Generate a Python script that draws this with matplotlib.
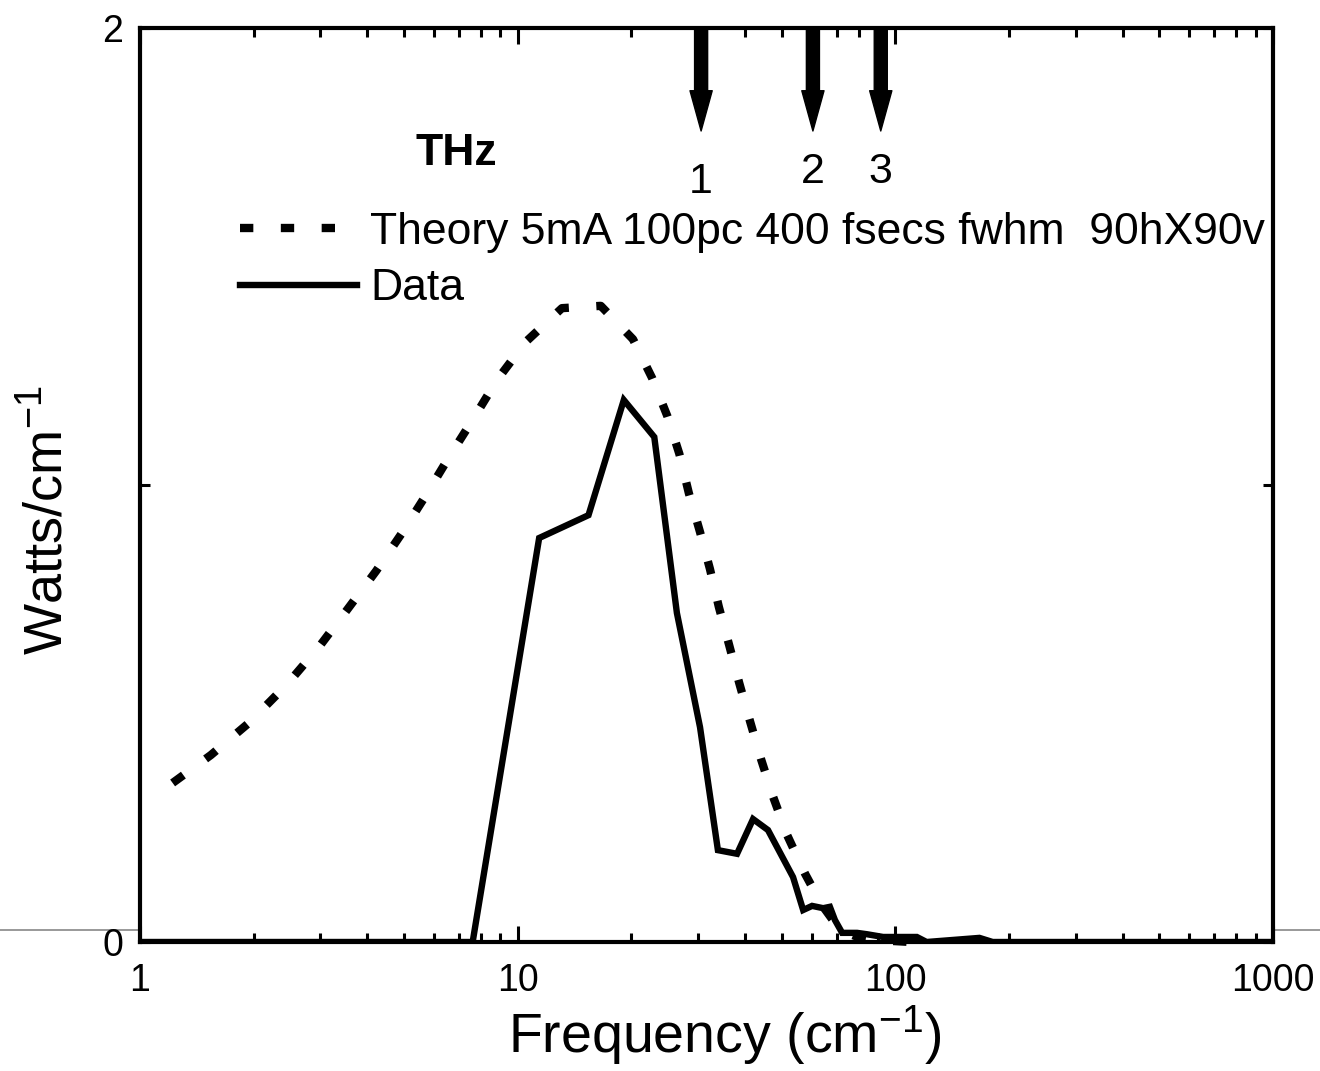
import matplotlib
matplotlib.use("Agg")
import matplotlib.pyplot as plt
from matplotlib.lines import Line2D
from matplotlib.ticker import LogLocator, FixedLocator, NullFormatter, FixedFormatter

plt.rcParams['font.family'] = ['Liberation Sans', 'DejaVu Sans']
plt.rcParams['mathtext.default'] = 'regular'

# ---- data ----
theory_freq = [1.22, 1.54, 1.94, 2.44, 2.98, 3.55, 4.22, 4.94, 5.72, 6.58, 7.62, 8.82,
               10.5, 13.1, 16.6, 20.2, 22.7, 24.9, 26.8, 28.4, 30.4, 32.3, 34.1, 36.3,
               38.6, 41.2, 44.1, 47.5, 51.7, 57.7, 63.9, 71.4, 80.0, 90.0, 110.0]
theory_power = [0.348, 0.409, 0.479, 0.562, 0.646, 0.729, 0.812, 0.895, 0.978, 1.061, 1.144, 1.230,
                1.313, 1.387, 1.392, 1.319, 1.234, 1.151, 1.068, 0.982, 0.897, 0.816, 0.733, 0.650,
                0.567, 0.484, 0.400, 0.317, 0.234, 0.149, 0.081, 0.026, 0.010, 0.004, 0.0]

data_freq = [1.0, 7.6, 11.4, 15.4, 19.1, 23.0, 26.4, 30.4, 33.9, 38.1, 42.0, 46.0, 53.6,
             57.0, 60.2, 64.4, 67.1, 69.2, 72.3, 79.2, 84.1, 92.8, 114.0, 121.0, 167.0,
             181.0, 1000.0]
data_power = [0.0, 0.0, 0.884, 0.934, 1.186, 1.105, 0.720, 0.470, 0.201, 0.193, 0.269, 0.245, 0.142,
              0.070, 0.079, 0.074, 0.077, 0.048, 0.020, 0.020, 0.017, 0.011, 0.011, 0.0, 0.009,
              0.0, 0.0]

arrow_freqs = [30.6, 60.5, 91.5]
arrow_labels = ['1', '2', '3']

x_ticks = [1, 10, 100, 1000]
x_ticklabels = ['1', '10', '100', '1000']
y_ticks = [0, 1, 2]
y_ticklabels = ['0', '', '2']

theory_label = 'Theory 5mA 100pc 400 fsecs fwhm  90hX90v'
data_label = 'Data'

# ---- figure ----
fig = plt.figure(figsize=(13.2, 10.71), dpi=100)
ax = fig.add_axes([140/1320, 1 - 942/1071, (1273 - 140)/1320, (942 - 28)/1071])

ax.plot(theory_freq, theory_power, color='black', linewidth=6.0,
        linestyle=(0, (1.6, 3.3)), dash_capstyle='butt', label=theory_label, clip_on=False)
ax.plot(data_freq, data_power, color='black', linewidth=4.6,
        solid_joinstyle='miter', label=data_label)

ax.set_xscale('log')
ax.set_xlim(1, 1000)
ax.set_ylim(0, 2)

ax.xaxis.set_major_locator(FixedLocator(x_ticks))
ax.xaxis.set_major_formatter(FixedFormatter(x_ticklabels))
ax.xaxis.set_minor_locator(LogLocator(base=10, subs=[2, 3, 4, 5, 6, 7, 8, 9], numticks=20))
ax.xaxis.set_minor_formatter(NullFormatter())
ax.yaxis.set_major_locator(FixedLocator(y_ticks))
ax.yaxis.set_major_formatter(FixedFormatter(y_ticklabels))

ax.tick_params(axis='x', which='major', direction='in', top=True, bottom=True,
               length=11.5, width=2.2, labelsize=27, pad=15)
ax.tick_params(axis='x', which='minor', direction='in', top=True, bottom=True,
               length=6.5, width=2.2)
ax.tick_params(axis='y', which='major', direction='in', left=True, right=True,
               length=7, width=2.2, labelsize=27, pad=12)

for s in ax.spines.values():
    s.set_linewidth(3.0)

ax.set_xlabel('Frequency (cm$^{-1}$)', fontsize=40)
ax.xaxis.set_label_coords((725 - 140)/1133, (942 - 1035)/914)
ax.xaxis.label.set_verticalalignment('center')
ax.set_ylabel('Watts/cm$^{-1}$', fontsize=39)
ax.yaxis.set_label_coords((48 - 140)/1133, (942 - 520)/914)
ax.yaxis.label.set_verticalalignment('center')

leg = ax.legend(loc='upper left', bbox_to_anchor=((240 - 140)/1133, (942 - 212)/914),
                frameon=False, fontsize=32, handlelength=2.63, handletextpad=0.3,
                labelspacing=0.34, borderpad=0, borderaxespad=0)

ax.text((415 - 140)/1133, (942 - 165)/914, 'THz', transform=ax.transAxes,
        fontsize=32, fontweight='bold', ha='left', va='baseline')

trans = ax.get_xaxis_transform()
tip_y = (942 - 131)/914
label_y = [(942 - 193)/914, (942 - 183)/914, (942 - 183)/914]
for f, lab, ly in zip(arrow_freqs, arrow_labels, label_y):
    ax.annotate('', xy=(f, tip_y), xycoords=trans, xytext=(f, 1.0), textcoords=trans,
                arrowprops=dict(facecolor='black', edgecolor='black', width=9.4,
                                headwidth=16, headlength=29, shrink=0))
    ax.text(f, ly, lab, transform=trans, fontsize=31, ha='center', va='baseline')

# faint grey scan line crossing the figure
fig.add_artist(Line2D([0, 1], [1 - 930/1071, 1 - 930/1071], transform=fig.transFigure,
                      color='#888888', linewidth=1.2, zorder=0))

fig.savefig('out.png', dpi=100)
